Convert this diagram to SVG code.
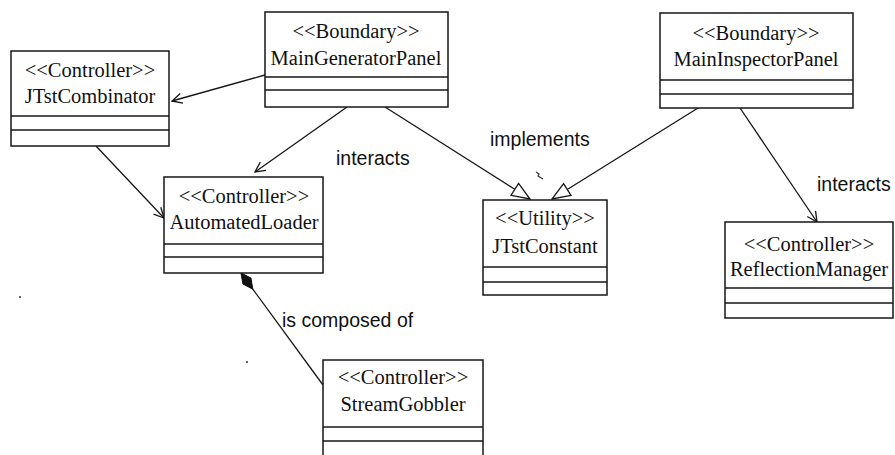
<svg xmlns="http://www.w3.org/2000/svg" width="895" height="455" viewBox="0 0 895 455">
  <style>
    .box { fill: #fff; stroke: #161616; stroke-width: 1.5; }
    .div { stroke: #161616; stroke-width: 1.4; }
    .cls { font-family: "Liberation Serif", "Times New Roman", serif; font-size: 20.5px; fill: #111; text-anchor: middle; }
    .lbl { font-family: "Liberation Sans", Arial, sans-serif; font-size: 19.5px; fill: #111; }
    .edge { fill: none; stroke: #161616; stroke-width: 1.3; }
    .speck { fill: #333; }
  </style>
  <defs>
    <marker id="open" viewBox="0 0 12 12" refX="11" refY="6" markerWidth="12" markerHeight="12" markerUnits="userSpaceOnUse" orient="auto">
      <path d="M1,1 L11,6 L1,11" fill="none" stroke="#161616" stroke-width="1.3"/>
    </marker>
    <marker id="realize" viewBox="0 0 20 16" refX="19" refY="8" markerWidth="20" markerHeight="16" markerUnits="userSpaceOnUse" orient="auto">
      <path d="M1,1 L19,8 L1,15 Z" fill="#fff" stroke="#161616" stroke-width="1.3"/>
    </marker>
    <marker id="diamond" viewBox="0 0 21 11" refX="0.5" refY="5.5" markerWidth="21" markerHeight="11" markerUnits="userSpaceOnUse" orient="auto">
      <path d="M0.5,5.5 L10.5,0.5 L20.5,5.5 L10.5,10.5 Z" fill="#111" stroke="#111" stroke-width="1"/>
    </marker>
  </defs>

  <!-- relationships -->
  <g id="connectors">
    <path class="edge" d="M265,75 L172,101" marker-end="url(#open)"/>
    <path class="edge" d="M347,107 L255,172" marker-end="url(#open)"/>
    <path class="edge" d="M385,107 L530,199" marker-end="url(#realize)"/>
    <path class="edge" d="M698,108 L552,199" marker-end="url(#realize)"/>
    <path class="edge" d="M740,108 L817,222" marker-end="url(#open)"/>
    <path class="edge" d="M96,146 L164,218" marker-end="url(#open)"/>
    <path class="edge" d="M241,273 L323,385" marker-start="url(#diamond)"/>
    <text class="lbl" x="336" y="165">interacts</text>
    <text class="lbl" x="490" y="146">implements</text>
    <text class="lbl" x="817" y="191">interacts</text>
    <text class="lbl" x="282" y="327">is composed of</text>
  </g>

  <g id="JTstCombinator">
    <rect class="box" x="11" y="51" width="158" height="95"/>
    <line class="div" x1="11" y1="116" x2="169" y2="116"/>
    <line class="div" x1="11" y1="130" x2="169" y2="130"/>
    <text class="cls" x="90" y="77">&lt;&lt;Controller&gt;&gt;</text>
    <text class="cls" x="90" y="103">JTstCombinator</text>
  </g>

  <g id="MainGeneratorPanel">
    <rect class="box" x="265" y="12" width="183" height="95"/>
    <line class="div" x1="265" y1="77" x2="448" y2="77"/>
    <line class="div" x1="265" y1="90" x2="448" y2="90"/>
    <text class="cls" x="356" y="38">&lt;&lt;Boundary&gt;&gt;</text>
    <text class="cls" x="356" y="65">MainGeneratorPanel</text>
  </g>

  <g id="MainInspectorPanel">
    <rect class="box" x="660" y="13" width="193" height="95"/>
    <line class="div" x1="660" y1="80" x2="853" y2="80"/>
    <line class="div" x1="660" y1="94" x2="853" y2="94"/>
    <text class="cls" x="756" y="40">&lt;&lt;Boundary&gt;&gt;</text>
    <text class="cls" x="756" y="66">MainInspectorPanel</text>
  </g>

  <g id="AutomatedLoader">
    <rect class="box" x="164" y="177" width="159" height="96"/>
    <line class="div" x1="164" y1="244" x2="323" y2="244"/>
    <line class="div" x1="164" y1="257" x2="323" y2="257"/>
    <text class="cls" x="244" y="203">&lt;&lt;Controller&gt;&gt;</text>
    <text class="cls" x="244" y="229">AutomatedLoader</text>
  </g>

  <g id="JTstConstant">
    <rect class="box" x="483" y="200" width="124" height="95"/>
    <line class="div" x1="483" y1="267" x2="607" y2="267"/>
    <line class="div" x1="483" y1="282" x2="607" y2="282"/>
    <text class="cls" x="545" y="225">&lt;&lt;Utility&gt;&gt;</text>
    <text class="cls" x="545" y="253">JTstConstant</text>
  </g>

  <g id="ReflectionManager">
    <rect class="box" x="725" y="222" width="168" height="96"/>
    <line class="div" x1="725" y1="288" x2="893" y2="288"/>
    <line class="div" x1="725" y1="303" x2="893" y2="303"/>
    <text class="cls" x="809" y="251">&lt;&lt;Controller&gt;&gt;</text>
    <text class="cls" x="809" y="276">ReflectionManager</text>
  </g>

  <g id="StreamGobbler">
    <rect class="box" x="323" y="360" width="160" height="105"/>
    <line class="div" x1="323" y1="427" x2="483" y2="427"/>
    <line class="div" x1="323" y1="441" x2="483" y2="441"/>
    <text class="cls" x="403" y="384">&lt;&lt;Controller&gt;&gt;</text>
    <text class="cls" x="403" y="411">StreamGobbler</text>
  </g>

  <!-- stray marks -->
  <path d="M536,172 l3,2 l-1,2 l5,3" fill="none" stroke="#333" stroke-width="1.2"/>
  <circle class="speck" cx="20" cy="297" r="1"/>
  <circle class="speck" cx="247" cy="362" r="1"/>
</svg>
